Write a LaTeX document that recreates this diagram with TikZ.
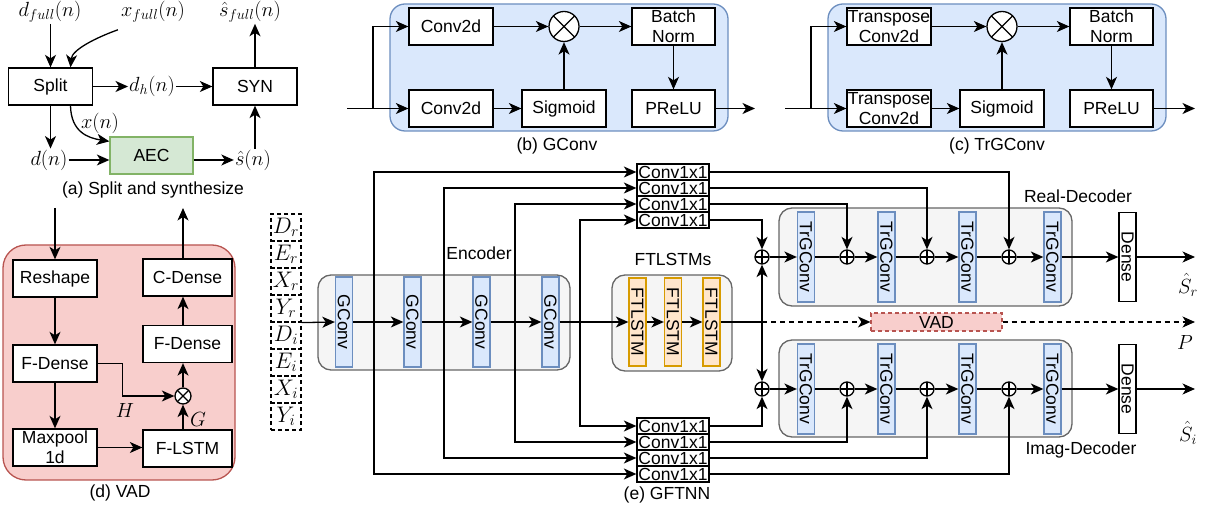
\RequirePackage{fix-cm}
\documentclass[tikz,border=0pt]{standalone}
\usepackage[no-math]{fontspec}
\setmainfont{Liberation Sans}
\usetikzlibrary{arrows.meta,calc}
\definecolor{bfill}{HTML}{DAE8FC}\definecolor{bdraw}{HTML}{6C8EBF}
\definecolor{gfill}{HTML}{D5E8D4}\definecolor{gdraw}{HTML}{82B366}
\definecolor{rfill}{HTML}{F8CECC}\definecolor{rdraw}{HTML}{B85450}
\definecolor{cfill}{HTML}{F5F5F5}\definecolor{cdraw}{HTML}{666666}
\definecolor{ofill}{HTML}{FFE6CC}\definecolor{odraw}{HTML}{D79B00}
\tikzset{
 base/.style={font=\fontsize{17.5}{20}\selectfont, inner sep=0pt},
 box/.style={base, draw, line width=1.3pt, fill=white, minimum width=84pt, minimum height=37pt, align=center},
 lbl/.style={font=\fontsize{20.5}{24}\selectfont, inner sep=1pt},
 captxt/.style={base},
 ln/.style={line width=1.3pt},
 arr/.style={line width=1.3pt, -{Stealth[length=12.5pt,width=11pt,inset=3.5pt]}},
 darr/.style={arr, dash pattern=on 5pt off 4pt},
 bcont/.style={draw=bdraw, fill=bfill, line width=1.3pt, rounded corners=15pt},
 rcont/.style={draw=rdraw, fill=rfill, line width=1.3pt, rounded corners=23pt},
 gcont/.style={draw=cdraw, fill=cfill, line width=1.3pt, rounded corners=13pt},
 bar/.style={base, rotate=-90, draw=bdraw, fill=bfill, line width=1.3pt, minimum width=90pt, minimum height=17pt},
 obar/.style={bar, draw=odraw, fill=ofill, minimum width=88pt},
 wbar/.style={bar, draw=black, fill=white, minimum width=89pt},
 cbox/.style={base, draw, line width=1.3pt, fill=white, minimum width=72pt, minimum height=16pt},
 inbox/.style={draw, dash pattern=on 4pt off 3pt, line width=1.2pt, minimum width=30pt, minimum height=27pt, inner sep=0pt, font=\fontsize{22.5}{24}\selectfont},
 xnode/.style={circle, draw, line width=1.3pt, fill=white, minimum size=30pt, inner sep=0pt,
   path picture={\draw[line width=1.3pt] (path picture bounding box.north west) -- (path picture bounding box.south east) (path picture bounding box.north east) -- (path picture bounding box.south west);}},
 pnode/.style={circle, draw, line width=1.3pt, fill=white, minimum size=14pt, inner sep=0pt,
   path picture={\draw[line width=1.3pt] (path picture bounding box.north) -- (path picture bounding box.south) (path picture bounding box.east) -- (path picture bounding box.west);}},
}
\begin{document}
\begin{tikzpicture}[x=1pt,y=-1pt]
\useasboundingbox (0,0) rectangle (1211,510);

% ---------------- (a) ----------------
\node[box] (split) at (50.5,86.5) {Split};
\node[box] (syn) at (255,86.5) {SYN};
\node[box, fill=gfill, draw=gdraw, minimum width=83pt] (aec) at (151.5,155.5) {AEC};
\node[lbl] (dfull) at (50,12) {$d_{full}(n)$};
\node[lbl] (xfull) at (153,12) {$x_{full}(n)$};
\node[lbl] (sfull) at (250,12) {$\hat{s}_{full}(n)$};
\node[lbl] (dh) at (152,86.5) {$d_h(n)$};
\node[lbl] (dn) at (49,160) {$d(n)$};
\node[lbl] (xn) at (100,123) {$x(n)$};
\node[lbl] (sn) at (253,160) {$\hat{s}(n)$};
\node[captxt] (capa) at (153,190) {(a) Split and synthesize};
\draw[arr] (split.north |- dfull.south) -- (split.north);
\draw[arr] ($(xfull.south west)+(-2,6)$) .. controls (95,38) and (72,50) .. ($(split.north)+(20,0)$);
\draw[arr] (split.east) -- (dh.west);
\draw[arr] (dh.east) -- (syn.west);
\draw[arr] (syn.north) -- (syn.north |- sfull.south);
\draw[arr] (split.south) -- (split.south |- dn.north);
\draw[arr] ($(split.south)+(20,0)$) .. controls (71,132) and (88,138) .. ($(aec.north west)+(0,5)$);
\draw[arr] (dn.east) -- (dn.east -| aec.west);
\draw[arr] (aec.east |- sn.west) -- (sn.west);
\draw[arr] (syn.south |- sn.north) -- (syn.south);

% ---------------- (d) VAD ----------------
\node[rcont, minimum width=232pt, minimum height=235pt] (vadc) at (119,362.5) {};
\node[box] (reshape) at (55,278.5) {Reshape};
\node[box, minimum width=89pt] (cdense) at (187.5,277.5) {C-Dense};
\node[box] (fd1) at (55,363.5) {F-Dense};
\node[box, minimum width=89pt] (fd2) at (187.5,344) {F-Dense};
\node[box] (maxp) at (55,447.5) {Maxpool\\1d};
\node[box, minimum width=89pt] (flstm) at (187.5,448.5) {F-LSTM};
\node[xnode, minimum size=16pt] (vx) at (183,396) {};
\coordinate (vin) at (55,208);
\coordinate (vout) at (183,208);
\draw[arr] (vin) -- (reshape.north);
\draw[arr] (vout |- cdense.north) -- (vout);
\draw[arr] (reshape) -- (fd1);
\draw[arr] (fd1) -- (maxp);
\draw[arr] (maxp.east) -- (maxp.east -| flstm.west);
\draw[arr] (vx |- flstm.north) -- (vx.south);
\draw[arr] (fd1.east) -- ++(25,0) |- (vx.west);
\draw[arr] (vx.north) -- (vx |- fd2.south);
\draw[arr] (vx |- fd2.north) -- (vx |- cdense.south);
\node[lbl] (hl) at (125,410) {$H$};
\node[lbl] (gl) at (198,419) {$G$};
\node[captxt] (capd) at (120,493) {(d) VAD};

% ---------------- (b) GConv ----------------
\node[bcont, minimum width=338pt, minimum height=127pt] (gcont) at (559,67.5) {};
\node[box] (ga) at (451,26.5) {Conv2d};
\node[box] (gb) at (451,108.5) {Conv2d};
\node[xnode] (gx) at (564,26.5) {};
\node[box, minimum width=83pt] (gbn) at (673.5,26.5) {Batch\\Norm};
\node[box] (gsig) at (564,108.5) {Sigmoid};
\node[box, minimum width=83pt] (gpr) at (673.5,108.5) {PReLU};
\coordinate (gin) at (347,108.5);
\coordinate (gbr) at (373,108.5);
\coordinate (gout) at (755,108.5);
\draw[ln] (gin) -- (gbr);
\draw[arr] (gbr) -- (gb.west);
\draw[arr] (gbr) |- (ga.west);
\draw[arr] (ga) -- (gx);
\draw[arr] (gx) -- (gbn);
\draw[arr] (gsig) -- (gx);
\draw[arr] (gbn) -- (gpr);
\draw[arr] (gb) -- (gsig);
\draw[arr] (gpr) -- (gout);
\node[captxt] (capb) at (557,146) {(b) GConv};

% ---------------- (c) TrGConv ----------------
\node[bcont, minimum width=338pt, minimum height=127pt] (tcont) at (997,67.5) {};
\node[box] (ta) at (889,26.5) {Transpose\\Conv2d};
\node[box] (tb) at (889,108.5) {Transpose\\Conv2d};
\node[xnode] (tx) at (1002,26.5) {};
\node[box, minimum width=83pt] (tbn) at (1111.5,26.5) {Batch\\Norm};
\node[box] (tsig) at (1002,108.5) {Sigmoid};
\node[box, minimum width=83pt] (tpr) at (1111.5,108.5) {PReLU};
\coordinate (tin) at (785,108.5);
\coordinate (tbr) at (811,108.5);
\coordinate (tout) at (1195,108.5);
\draw[ln] (tin) -- (tbr);
\draw[arr] (tbr) -- (tb.west);
\draw[arr] (tbr) |- (ta.west);
\draw[arr] (ta) -- (tx);
\draw[arr] (tx) -- (tbn);
\draw[arr] (tsig) -- (tx);
\draw[arr] (tbn) -- (tpr);
\draw[arr] (tb) -- (tsig);
\draw[arr] (tpr) -- (tout);
\node[captxt] (capc) at (997,146) {(c) TrGConv};

% ---------------- (e) GFTNN ----------------
\node[gcont, minimum width=252pt, minimum height=95pt] (enc) at (444,322.5) {};
\node[gcont, minimum width=120pt, minimum height=96pt] (ftc) at (672,323) {};
\node[gcont, minimum width=293pt, minimum height=98pt] (rdec) at (925.5,257) {};
\node[gcont, minimum width=293pt, minimum height=97pt] (idec) at (925.5,388.5) {};
\node[base] (encl) at (479,253) {Encoder};
\node[base] (ftl) at (673,259) {FTLSTMs};
\node[base] (rdl) at (1078,196) {Real-Decoder};
\node[base] (idl) at (1081,450) {Imag-Decoder};
\node[captxt] (cape) at (667,495) {(e) GFTNN};

% inputs
\node[inbox] (i1) at (286,227.5) {$D_r$};
\node[inbox] (i2) at (286,254.5) {$E_r$};
\node[inbox] (i3) at (286,281.5) {$X_r$};
\node[inbox] (i4) at (286,308.5) {$Y_r$};
\node[inbox] (i5) at (286,335.5) {$D_i$};
\node[inbox] (i6) at (286,362.5) {$E_i$};
\node[inbox] (i7) at (286,389.5) {$X_i$};
\node[inbox] (i8) at (286,416.5) {$Y_i$};

% encoder bars
\node[bar] (gc1) at (344,322) {GConv};
\node[bar] (gc2) at (412.5,322) {GConv};
\node[bar] (gc3) at (481.5,322) {GConv};
\node[bar] (gc4) at (550.5,322) {GConv};
% ftlstm bars
\node[obar] (ft1) at (637.5,322) {FTLSTM};
\node[obar] (ft2) at (673,322) {FTLSTM};
\node[obar] (ft3) at (711.5,322) {FTLSTM};
% decoder bars
\node[bar] (r1) at (806,257) {TrGConv};
\node[bar] (r2) at (886.5,257) {TrGConv};
\node[bar] (r3) at (967.5,257) {TrGConv};
\node[bar] (r4) at (1052.5,257) {TrGConv};
\node[bar] (m1) at (806,389) {TrGConv};
\node[bar] (m2) at (886.5,389) {TrGConv};
\node[bar] (m3) at (967.5,389) {TrGConv};
\node[bar] (m4) at (1052.5,389) {TrGConv};
\node[wbar] (dr) at (1127.5,257) {Dense};
\node[wbar] (di) at (1127.5,389) {Dense};
% sums
\node[pnode] (pr1) at (762,257) {};
\node[pnode] (pr2) at (847,257) {};
\node[pnode] (pr3) at (927,257) {};
\node[pnode] (pr4) at (1009,257) {};
\node[pnode] (pi1) at (762,389) {};
\node[pnode] (pi2) at (847,389) {};
\node[pnode] (pi3) at (927,389) {};
\node[pnode] (pi4) at (1009,389) {};
% conv1x1
\node[cbox] (cv1) at (673,172) {Conv1x1};
\node[cbox] (cv2) at (673,188) {Conv1x1};
\node[cbox] (cv3) at (673,204) {Conv1x1};
\node[cbox] (cv4) at (673,220) {Conv1x1};
\node[cbox] (cb1) at (673,426) {Conv1x1};
\node[cbox] (cb2) at (673,442) {Conv1x1};
\node[cbox] (cb3) at (673,458) {Conv1x1};
\node[cbox] (cb4) at (673,474) {Conv1x1};
% vad
\node[base, draw=rdraw, fill=rfill, dash pattern=on 4pt off 3pt, line width=1.2pt, minimum width=131pt, minimum height=18pt] (vadn) at (936.5,322) {VAD};

\coordinate (k1) at (374,322);
\coordinate (k2) at (444,322);
\coordinate (k3) at (515,322);
\coordinate (k4) at (580,322);
\coordinate (J) at (762,322);
\coordinate (sr) at (1195,257);
\coordinate (si) at (1195,389);
\coordinate (po) at (1195,322);

% main path (rotated bars: .south is the left side, .north the right side)
\draw[arr] (i4.south east) -- (gc1.south);
\draw[arr] (gc1) -- (gc2);
\draw[arr] (gc2) -- (gc3);
\draw[arr] (gc3) -- (gc4);
\draw[arr] (gc4) -- (ft1);
\draw[arr] (ft1) -- (ft2);
\draw[arr] (ft2) -- (ft3);
\draw[ln] (ft3.north) -- (J);
\draw[arr] (J) -- (pr1.south);
\draw[arr] (J) -- (pi1.north);
\draw[darr] (J) -- (vadn.west);
\draw[darr] (vadn.east) -- (po);
% skips
\draw[arr] (k1) |- (cv1.west);
\draw[arr] (k1) |- (cb4.west);
\draw[arr] (k2) |- (cv2.west);
\draw[arr] (k2) |- (cb3.west);
\draw[arr] (k3) |- (cv3.west);
\draw[arr] (k3) |- (cb2.west);
\draw[arr] (k4) |- (cv4.west);
\draw[arr] (k4) |- (cb1.west);
\draw[arr] (cv4.east) -| (pr1.north);
\draw[arr] (cv3.east) -| (pr2.north);
\draw[arr] (cv2.east) -| (pr3.north);
\draw[arr] (cv1.east) -| (pr4.north);
\draw[arr] (cb1.east) -| (pi1.south);
\draw[arr] (cb2.east) -| (pi2.south);
\draw[arr] (cb3.east) -| (pi3.south);
\draw[arr] (cb4.east) -| (pi4.south);
% decoders
\draw[arr] (pr1) -- (r1);
\draw[ln] (r1) -- (pr2);
\draw[arr] (pr2) -- (r2);
\draw[ln] (r2) -- (pr3);
\draw[arr] (pr3) -- (r3);
\draw[ln] (r3) -- (pr4);
\draw[arr] (pr4) -- (r4);
\draw[arr] (r4) -- (dr);
\draw[arr] (dr.north) -- (sr);
\draw[arr] (pi1) -- (m1);
\draw[ln] (m1) -- (pi2);
\draw[arr] (pi2) -- (m2);
\draw[ln] (m2) -- (pi3);
\draw[arr] (pi3) -- (m3);
\draw[ln] (m3) -- (pi4);
\draw[arr] (pi4) -- (m4);
\draw[arr] (m4) -- (di);
\draw[arr] (di.north) -- (si);
\node[lbl] (srl) at (1188,285) {$\hat{S}_r$};
\node[lbl] (pl) at (1185,342) {$P$};
\node[lbl] (sil) at (1188,433) {$\hat{S}_i$};
\end{tikzpicture}
\end{document}
